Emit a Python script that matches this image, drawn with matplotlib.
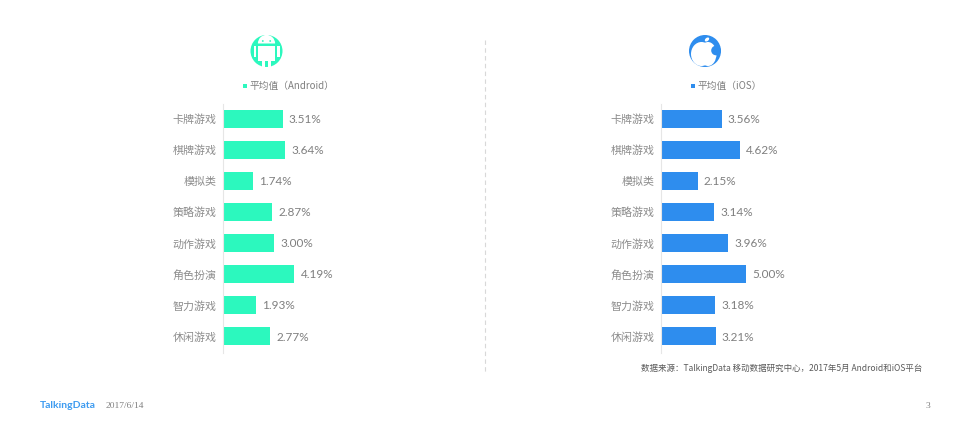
import matplotlib
matplotlib.use('Agg')
import matplotlib.pyplot as plt
from matplotlib.patches import Circle, Rectangle, Ellipse, Wedge

plt.rcParams['font.family'] = ['Noto Sans CJK SC', 'DejaVu Sans']

categories = ['卡牌游戏', '棋牌游戏', '模拟类', '策略游戏', '动作游戏', '角色扮演', '智力游戏', '休闲游戏']
android_values = [3.51, 3.64, 1.74, 2.87, 3.00, 4.19, 1.93, 2.77]
ios_values = [3.56, 4.62, 2.15, 3.14, 3.96, 5.00, 3.18, 3.21]
android_legend = '平均值（Android）'
ios_legend = '平均值（iOS）'
source_text = '数据来源：TalkingData 移动数据研究中心，2017年5月 Android和iOS平台'
brand_text = 'TalkingData'
date_text = '2017/6/14'
page_text = '3'

TEAL = '#2CF8BE'
BLUE = '#2E8DEE'
W, H = 968, 430
fig = plt.figure(figsize=(W / 100, H / 100), dpi=100, facecolor='white')

bg = fig.add_axes([0, 0, 1, 1])
bg.set_xlim(0, W)
bg.set_ylim(H, 0)
bg.axis('off')


def panel(x0, values, color):
    top, bottom = 104, 352.5
    ax = fig.add_axes([x0 / W, 1 - bottom / H, 119 / W, (bottom - top) / H])
    ax.set_xlim(0, 7)
    ax.set_ylim(len(values) - 0.5 + 0.02, -0.5 + 0.02)
    ax.patch.set_alpha(0)
    ax.barh(range(len(values)), values, height=0.58, color=color, zorder=2)
    for s in ['top', 'right', 'bottom']:
        ax.spines[s].set_visible(False)
    ax.spines['left'].set_color('#E6E6E6')
    ax.spines['left'].set_linewidth(0.8)
    ax.xaxis.set_visible(False)
    ax.set_yticks(range(len(values)))
    ax.set_yticklabels(categories, fontsize=7.9, color='#8C8C8C')
    ax.tick_params(axis='y', length=0, pad=4.8)
    for i, v in enumerate(values):
        ax.annotate(f'{v:.2f}%', (v, i), xytext=(4.5, -0.5), textcoords='offset points',
                    va='center', ha='left', fontsize=8.5, color='#7F7F7F',
                    family=['Lato', 'DejaVu Sans'], annotation_clip=False)


panel(223, android_values, TEAL)
panel(661, ios_values, BLUE)

# Divider
bg.plot([485, 485], [40, 372], color='#D8D8D8', lw=0.8, ls=(0, (4, 3)))

# Android icon
bg.add_patch(Circle((266.5, 51), 16, fc=TEAL, ec='none'))
bg.add_patch(Wedge((266.5, 43.5), 8.6, 180, 360, fc='white', ec='none', zorder=3))
bg.add_patch(Rectangle((258, 45.5), 17, 15, fc='white', ec='none', zorder=3))
bg.add_patch(Rectangle((253.5, 45.5), 2.8, 11.5, fc='white', ec='none', zorder=3))
bg.add_patch(Rectangle((276.8, 45.5), 2.8, 11.5, fc='white', ec='none', zorder=3))
bg.add_patch(Rectangle((262, 60), 3.2, 7, fc='white', ec='none', zorder=3))
bg.add_patch(Rectangle((268, 60), 3.2, 7, fc='white', ec='none', zorder=3))
bg.add_patch(Circle((262.8, 41), 0.9, fc=TEAL, ec='none', zorder=4))
bg.add_patch(Circle((270.2, 41), 0.9, fc=TEAL, ec='none', zorder=4))

# Apple icon
bg.add_patch(Circle((705, 51), 16, fc=BLUE, ec='none'))
bg.add_patch(Ellipse((701.5, 54), 21, 24, fc='white', ec='none', zorder=3))
bg.add_patch(Ellipse((708, 54), 17, 24, fc='white', ec='none', zorder=3))
bg.add_patch(Circle((716, 50.5), 4.8, fc=BLUE, ec='none', zorder=4))
bg.add_patch(Ellipse((707, 39.5), 5, 3.2, angle=-40, fc='white', ec='none', zorder=4))

# Legends
bg.add_patch(Rectangle((242.5, 83.5), 4.6, 4.6, fc=TEAL, ec='none'))
bg.text(249.5, 85.5, android_legend, fontsize=7.0, color='#7F7F7F', va='center', ha='left')
bg.add_patch(Rectangle((690.5, 83.5), 4.6, 4.6, fc=BLUE, ec='none'))
bg.text(697.5, 85.5, ios_legend, fontsize=7.0, color='#7F7F7F', va='center', ha='left')

# Footer
bg.text(922, 368.5, source_text, fontsize=6.08, color='#595959', va='center', ha='right')
bg.text(40, 405.5, brand_text, fontsize=7.5, color='#3D9BF0', va='center', ha='left',
        fontweight='bold', family=['Lato', 'DejaVu Sans'])
bg.text(106, 406.5, date_text, fontsize=6.8, color='#7F7F7F', va='center', ha='left',
        family=['Liberation Serif', 'DejaVu Serif'])
bg.text(926, 405.5, page_text, fontsize=6.8, color='#7F7F7F', va='center', ha='left',
        family=['Liberation Serif', 'DejaVu Serif'])

fig.savefig('out.png', dpi=100, facecolor='white')
